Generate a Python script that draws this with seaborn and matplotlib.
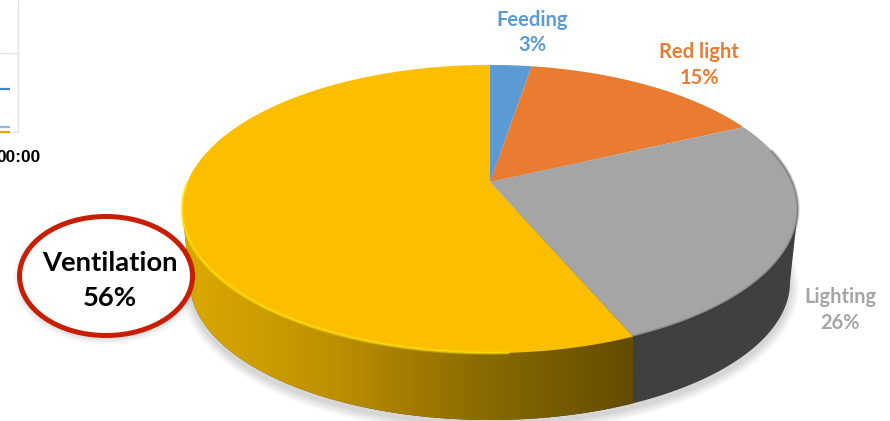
import numpy as np
import matplotlib
matplotlib.use("Agg")
import matplotlib.pyplot as plt
from matplotlib.colors import LinearSegmentedColormap
from matplotlib.patches import Ellipse, Polygon
import seaborn as sns

# ---- data -------------------------------------------------------------
categories = ["Feeding", "Red light", "Lighting", "Ventilation"]
shares = [2.6, 15.4, 25.6, 56.4]
colours = ["#5B9BD5", "#E97C30", "#A5A5A5", "#FBBF00"]
side_yellow = ["#DDAA00", "#BE9000", "#8A6B00", "#644C00"]
side_grey = "#404040"
inset_lines = ["#3F87C8", "#8DB8E2", "#E0A800"]
inset_tick = "00:00"

sns.set_theme(style="white")
plt.rcParams["font.family"] = ["Lato", "DejaVu Sans"]
palette = sns.color_palette(colours)

W, H = 890, 421
fig = plt.figure(figsize=(W / 100, H / 100), dpi=100)
ax = fig.add_axes([0, 0, 1, 1])
ax.set_xlim(0, W)
ax.set_ylim(H, 0)
ax.axis("off")

# ---- perspective projection of the pie disc ----------------------------
CX, CY = 490.0, 182.0     # apex on screen
A, B, K = 302.6, 139.0, 0.1875


def project(theta):
    """theta: clockwise from 12 o'clock, radians."""
    u, v = np.sin(theta), np.cos(theta)
    w = 1 + K * v
    return CX + A * u / w, CY - B * v / w


# bottom rim of the disc
BX, BY, BRX, BRY = 490.0, 282.0, 300.0, 138.0
phi = np.linspace(np.pi, 0, 361)          # left -> bottom -> right
low_x = BX + BRX * np.cos(phi)
low_y = BY + BRY * np.sin(phi)

# soft shadow
for grow, alpha in [(9, .05), (7, .06), (5, .07), (3, .08), (1, .09)]:
    ax.add_patch(Ellipse((BX, BY + 5), 2 * (BRX + grow), 2 * (BRY + grow),
                         fc="#808080", ec="none", alpha=alpha, zorder=1))

# side wall
side_pts = np.r_[[[182, 209]], np.c_[low_x, low_y], [[798, 209]]]
ax.add_patch(Polygon(side_pts, closed=True, fc=side_grey, ec="none", zorder=2))

cumulative = np.cumsum(shares) / np.sum(shares) * 2 * np.pi
split_x, split_y = project(cumulative[2])
cmap = LinearSegmentedColormap.from_list("side", side_yellow)
grad = np.linspace(0, 1, 512).reshape(1, -1)
img = ax.imshow(grad, extent=[182, split_x - 1, H, 0], cmap=cmap,
                aspect="auto", zorder=3, interpolation="bilinear")
img.set_clip_path(Polygon(side_pts, closed=True, transform=ax.transData))
ax.set_xlim(0, W)
ax.set_ylim(H, 0)

# top face wedges
starts = np.r_[0, cumulative[:-1]]
for s, e, col in zip(starts, cumulative, palette):
    th = np.linspace(s, e, 240)
    x, y = project(th)
    ax.fill(np.r_[CX, x], np.r_[CY, y], color=col, lw=0, zorder=4)

# bevel: bright rim on the lower yellow, dark rim on the grey
yel = np.linspace(cumulative[2] + 0.35, 2 * np.pi * 0.75, 200)
for lw, a in [(3.0, .22), (1.5, .5)]:
    ax.plot(*project(yel), color="#FFE81A", lw=lw, alpha=a, zorder=5,
            solid_capstyle="butt")
gry = np.linspace(cumulative[1] + 0.2, cumulative[2], 200)
for lw, a in [(2.6, .13), (1.3, .25)]:
    ax.plot(*project(gry), color="#303030", lw=lw, alpha=a, zorder=5,
            solid_capstyle="butt")

# ---- annotation ring ---------------------------------------------------
RX, RY = 106, 276
for grow, alpha in [(6, .05), (4, .07), (2, .09)]:
    ax.add_patch(Ellipse((RX, RY + 3), 2 * (86.5 + grow), 2 * (59.5 + grow),
                         fc="#808080", ec="none", alpha=alpha, zorder=6))
ax.add_patch(Ellipse((RX, RY), 173, 119, fc="white", ec="#C81E00", lw=3.6, zorder=7))

# ---- labels ------------------------------------------------------------
label_pos = {"Feeding": (532, 20, 45, 14.5),
             "Red light": (699, 52, 78, 14.5),
             "Lighting": (840, 297, 323, 14.4),
             "Ventilation": (110, 263, 298, 19.7)}
for name, share, col in zip(categories, shares, colours):
    x, y1, y2, fs = label_pos[name]
    c = "black" if name == "Ventilation" else col
    ax.text(x, y1, name, color=c, fontsize=fs, fontweight="bold",
            ha="center", va="center", zorder=8)
    ax.text(x, y2, f"{share:.0f}%", color=c, fontsize=fs, fontweight="bold",
            ha="center", va="center", zorder=8)

# ---- fragment of the neighbouring chart, cut by the image edge ---------
ax.plot([18, 18], [0, 132], color="#E2E2E2", lw=1, zorder=2)
ax.plot([0, 18], [53, 53], color="#E2E2E2", lw=1, zorder=2)
ax.plot([0, 18], [132, 132], color="#E2E2E2", lw=1, zorder=2)
for yy, c in zip([89, 127, 131.5], inset_lines):
    ax.plot([0, 10], [yy, yy], color=c, lw=1.6, zorder=3, solid_capstyle="butt")
ax.text(41, 158, inset_tick, color="black", fontsize=12.5, fontweight="bold",
        family=["Liberation Sans", "DejaVu Sans"], ha="right", va="center", zorder=3)

fig.savefig("out.png", dpi=100, facecolor="white")
